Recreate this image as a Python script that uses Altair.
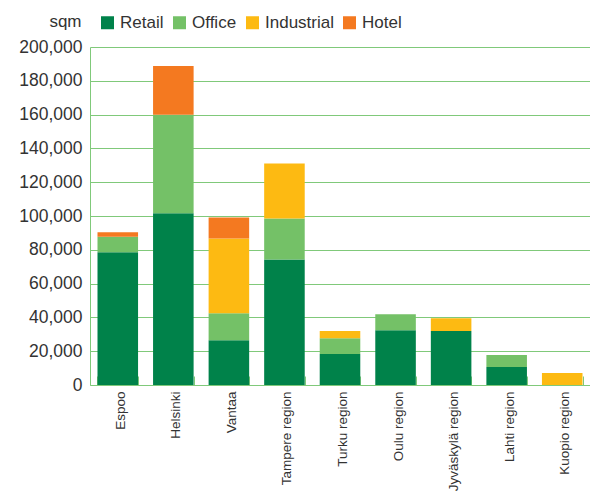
import altair as alt
import pandas as pd

regions = ["Espoo", "Helsinki", "Vantaa", "Tampere region", "Turku region",
           "Oulu region", "Jyväskylä region", "Lahti region", "Kuopio region"]
types = ["Retail", "Office", "Industrial", "Hotel"]
retail = [78500, 101700, 26500, 74300, 18300, 32400, 31900, 10600, 0]
office = [9200, 58200, 16000, 24200, 9400, 9500, 0, 7100, 0]
industrial = [0, 0, 44200, 32500, 4300, 0, 7600, 0, 7100]
hotel = [2700, 28900, 12400, 0, 0, 0, 0, 0, 0]
colors = ["#00824a", "#74c167", "#fdba12", "#f47920"]
y_ticks = [0, 20000, 40000, 60000, 80000, 100000, 120000, 140000, 160000, 180000, 200000]

rows = []
for i, r in enumerate(regions):
    for j, (t, vals) in enumerate(zip(types, [retail, office, industrial, hotel])):
        if vals[i] > 0:
            rows.append({"region": r, "type": t, "value": vals[i], "order": j})
df = pd.DataFrame(rows)

GRID = "#80c97a"
TXT = "#333333"
W, H = 500, 338

xscale = alt.Scale(paddingInner=0.27, paddingOuter=0.135)

bars = alt.Chart(df).mark_bar().encode(
    x=alt.X("region:N", sort=regions, title=None, scale=xscale,
            axis=alt.Axis(labelAngle=-90, labelFontSize=13.5, labelColor=TXT,
                          domainColor=GRID, ticks=False, labelPadding=6,
                          labelOffset=3, grid=False)),
    y=alt.Y("value:Q", stack="zero", scale=alt.Scale(domain=[0, 200000], nice=False),
            axis=alt.Axis(values=y_ticks, format=",d", title="sqm", titleAngle=0,
                          titleAlign="right", titleX=-9, titleY=-21,
                          titleBaseline="alphabetic",
                          titleFontWeight="normal", titleFontSize=17, titleColor=TXT,
                          labelFontSize=17.5, labelColor=TXT, ticks=False,
                          labelPadding=8, gridColor=GRID, domainColor=GRID)),
    color=alt.Color("type:N", sort=types,
                    scale=alt.Scale(domain=types, range=colors),
                    legend=alt.Legend(orient="none", direction="horizontal",
                                      legendX=9, legendY=-33, title=None,
                                      symbolType="square", symbolSize=169,
                                      symbolStrokeWidth=0, labelFontSize=17,
                                      labelColor=TXT, labelOffset=4,
                                      columnPadding=7, padding=0)),
    order=alt.Order("order:Q"),
)

ticks = alt.Chart(df).mark_point(opacity=0).encode(
    x=alt.X("region:N", sort=regions, title=None, scale=xscale,
            axis=alt.Axis(orient="top", offset=-H, labels=False, domain=False,
                          ticks=True, tickBand="extent", tickSize=9,
                          tickColor=GRID, grid=False, title=None)),
)

chart = alt.layer(bars, ticks).resolve_axis(x="independent").properties(
    width=W, height=H,
    autosize=alt.AutoSizeParams(type="none"),
    padding={"left": 82, "top": 39, "right": 0, "bottom": 110},
).configure(font="Liberation Sans").configure_view(stroke=None)

chart.save("out.html", embed_options={"renderer": "svg", "actions": False})
